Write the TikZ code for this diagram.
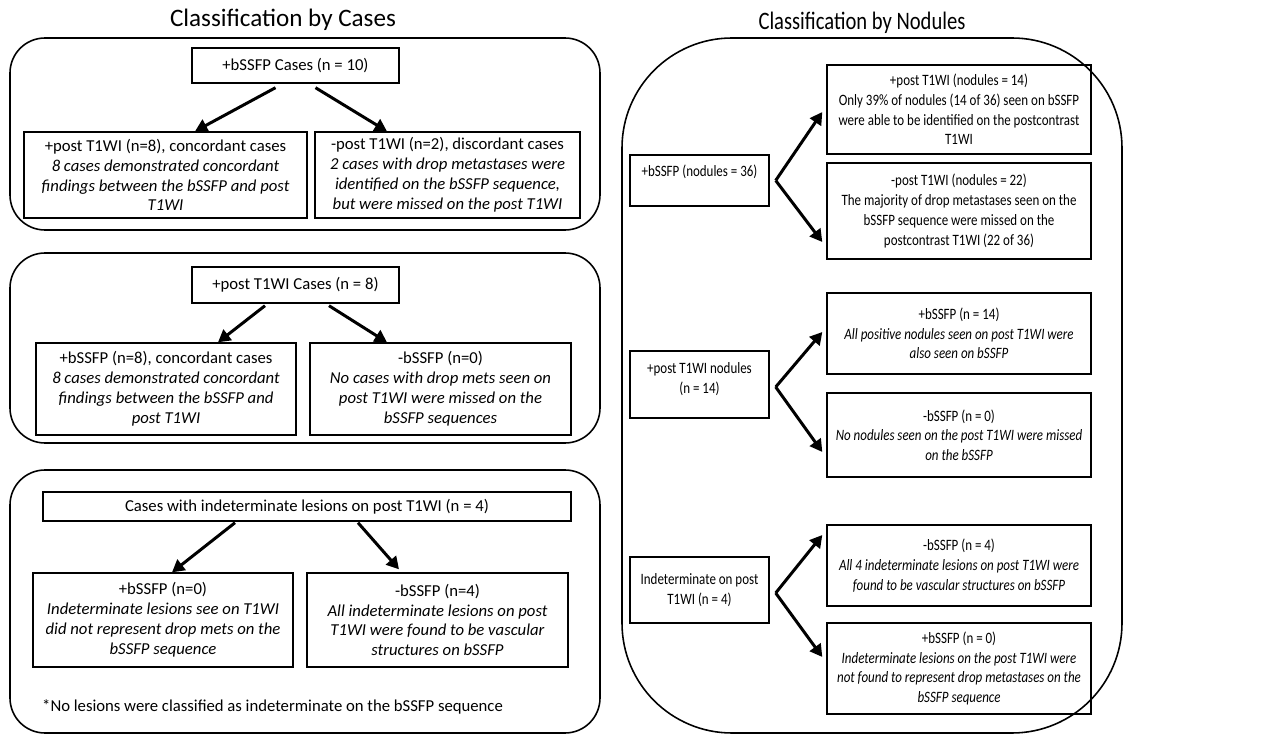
\documentclass[tikz,border=0pt]{standalone}
\usepackage{fontspec}
\setmainfont{Carlito}
\newfontfamily\narrowfont[FakeStretch=0.82]{Carlito}
\usetikzlibrary{arrows.meta}
\usetikzlibrary{calc}
\tikzset{%
  panel/.style={draw, line width=0.9pt, rounded corners=0.7cm},
  box/.style={draw, line width=0.8pt, inner sep=0pt, align=center,
              font=\fontsize{9.5}{11.3}\selectfont},
  nbox/.style={box, font=\narrowfont\fontsize{9}{11.2}\selectfont},
  arr/.style={line width=1.7pt, -{Triangle[length=7pt,width=7.5pt]}},
}

\begin{document}
\begin{tikzpicture}[x=0.02cm,y=-0.02cm]
              \useasboundingbox (0,0) rectangle (1282,736);
              \node[font=\fontsize{14.3}{16}\selectfont] (tcases) at (283,20) {Classification by Cases};
              \node[font=\narrowfont\fontsize{14.3}{16}\selectfont] (tnod) at (862,23) {Classification by Nodules};
              \draw[panel] (10,38) rectangle (600,230);
              \draw[panel] (10,253) rectangle (600,443);
              \draw[panel] (10,470) rectangle (600,733);
              \draw[panel, rounded corners=2.2cm] (622,38) rectangle (1122,733);
              % cases
              \node[box, minimum width=4.14cm, minimum height=0.70cm] (c1) at (295.5,65.5) {+bSSFP Cases (n = 10)};
              \node[box, minimum width=5.66cm, minimum height=1.72cm] (c1a) at (165.5,175)
                {+post T1WI (n=8), concordant cases\\ \textit{8 cases demonstrated concordant}\\
                 \textit{findings between the bSSFP and post}\\ \textit{T1WI}};
              \node[box, minimum width=5.30cm, minimum height=1.72cm] (c1b) at (447.5,175)
                {-post T1WI (n=2), discordant cases\\ \textit{2 cases with drop metastases were}\\
                 \textit{identified on the bSSFP sequence,}\\ \textit{but were missed on the post T1WI}};
              \draw[arr] ($(c1.south)+(-20,4)$) -- ($(c1a.north)+(29.5,0)$);
              \draw[arr] ($(c1.south)+(20,4)$) -- ($(c1b.north)+(-60.5,0)$);
              \node[box, minimum width=4.14cm, minimum height=0.72cm] (c2) at (295.5,285) {+post T1WI Cases (n = 8)};
              \node[box, minimum width=5.20cm, minimum height=1.84cm] (c2a) at (166,389)
                {+bSSFP (n=8), concordant cases\\ \textit{8 cases demonstrated concordant}\\
                 \textit{findings between the bSSFP and}\\ \textit{post T1WI}};
              \node[box, minimum width=5.22cm, minimum height=1.84cm] (c2b) at (440.5,389)
                {-bSSFP (n=0)\\ \textit{No cases with drop mets seen on}\\
                 \textit{post T1WI were missed on the}\\ \textit{bSSFP sequences}};
              \draw[arr] ($(c2.south)+(-30.5,2)$) -- ($(c2a.north)+(52,0)$);
              \draw[arr] ($(c2.south)+(33.5,2)$) -- ($(c2b.north)+(-53.5,0)$);
              \node[box, minimum width=10.56cm, minimum height=0.58cm] (c3) at (307,506.5)
                {Cases with indeterminate lesions on post T1WI (n = 4)};
              \node[box, minimum width=5.20cm, minimum height=1.88cm] (c3a) at (163,620)
                {+bSSFP (n=0)\\ \textit{Indeterminate lesions see on T1WI}\\
                 \textit{did not represent drop mets on the}\\ \textit{bSSFP sequence}};
              \node[box, minimum width=5.22cm, minimum height=1.88cm] (c3b) at (437.5,620)
                {-bSSFP (n=4)\\ \textit{All indeterminate lesions on post}\\
                 \textit{T1WI were found to be vascular}\\ \textit{structures on bSSFP}};
              \draw[arr] ($(c3.south)+(-72,1)$) -- ($(c3a.north)+(9,0)$);
              \draw[arr] ($(c3.south)+(51,1)$) -- ($(c3b.north)+(-38.5,-3)$);
              \node[anchor=west, font=\fontsize{9.5}{11.3}\selectfont] (fn) at (36,707)
                {*No lesions were classified as indeterminate on the bSSFP sequence};
              % nodules
              \node[nbox, minimum width=2.78cm, minimum height=1.02cm] (n1) at (699.5,180.5)
                {+bSSFP (nodules = 36)\\ \mbox{}};
              \node[nbox, minimum width=5.28cm, minimum height=1.78cm] (n1a) at (959,109.5)
                {+post T1WI (nodules = 14)\\ Only 39\% of nodules (14 of 36) seen on bSSFP\\
                 were able to be identified on the postcontrast\\ T1WI};
              \node[nbox, minimum width=5.28cm, minimum height=1.92cm] (n1b) at (959,211)
                {-post T1WI (nodules = 22)\\ The majority of drop metastases seen on the\\
                 bSSFP sequence were missed on the\\ postcontrast T1WI (22 of 36)};
              \coordinate (f1) at ($(n1.east)+(6,0)$);
              \draw[arr] (f1) -- ($(n1a.west)+(-4,2.5)$);
              \draw[arr] (f1) -- ($(n1b.west)+(-4,31)$);
              \node[nbox, minimum width=2.78cm, minimum height=1.34cm] (n2) at (699.5,384.5)
                {+post T1WI nodules\\ (n = 14)\\[-4pt] \mbox{}};
              \node[nbox, minimum width=5.28cm, minimum height=1.62cm] (n2a) at (959,333.5)
                {+bSSFP (n = 14)\\ \textit{All positive nodules seen on post T1WI were}\\
                 \textit{also seen on bSSFP}};
              \node[nbox, minimum width=5.28cm, minimum height=1.68cm] (n2b) at (959,435)
                {-bSSFP (n = 0)\\ \textit{No nodules seen on the post T1WI were missed}\\
                 \textit{on the bSSFP}};
              \coordinate (f2) at ($(n2.east)+(6,2.5)$);
              \draw[arr] (f2) -- ($(n2a.west)+(-4,-1.5)$);
              \draw[arr] (f2) -- ($(n2b.west)+(-4,17)$);
              \node[nbox, minimum width=2.78cm, minimum height=1.32cm] (n3) at (699.5,590)
                {Indeterminate on post\\ T1WI (n = 4)};
              \node[nbox, minimum width=5.28cm, minimum height=1.62cm] (n3a) at (959,565.5)
                {-bSSFP (n = 4)\\ \textit{All 4 indeterminate lesions on post T1WI were}\\
                 \textit{found to be vascular structures on bSSFP}};
              \node[nbox, minimum width=5.28cm, minimum height=1.82cm] (n3b) at (959,668.5)
                {+bSSFP (n = 0)\\ \textit{Indeterminate lesions on the post T1WI were}\\
                 \textit{not found to represent drop metastases on the}\\ \textit{bSSFP sequence}};
              \coordinate (f3) at ($(n3.east)+(6,3)$);
              \draw[arr] (f3) -- ($(n3a.west)+(-4,-30.5)$);
              \draw[arr] (f3) -- ($(n3b.west)+(-4,-11.5)$);
          \end{tikzpicture}
\end{document}
